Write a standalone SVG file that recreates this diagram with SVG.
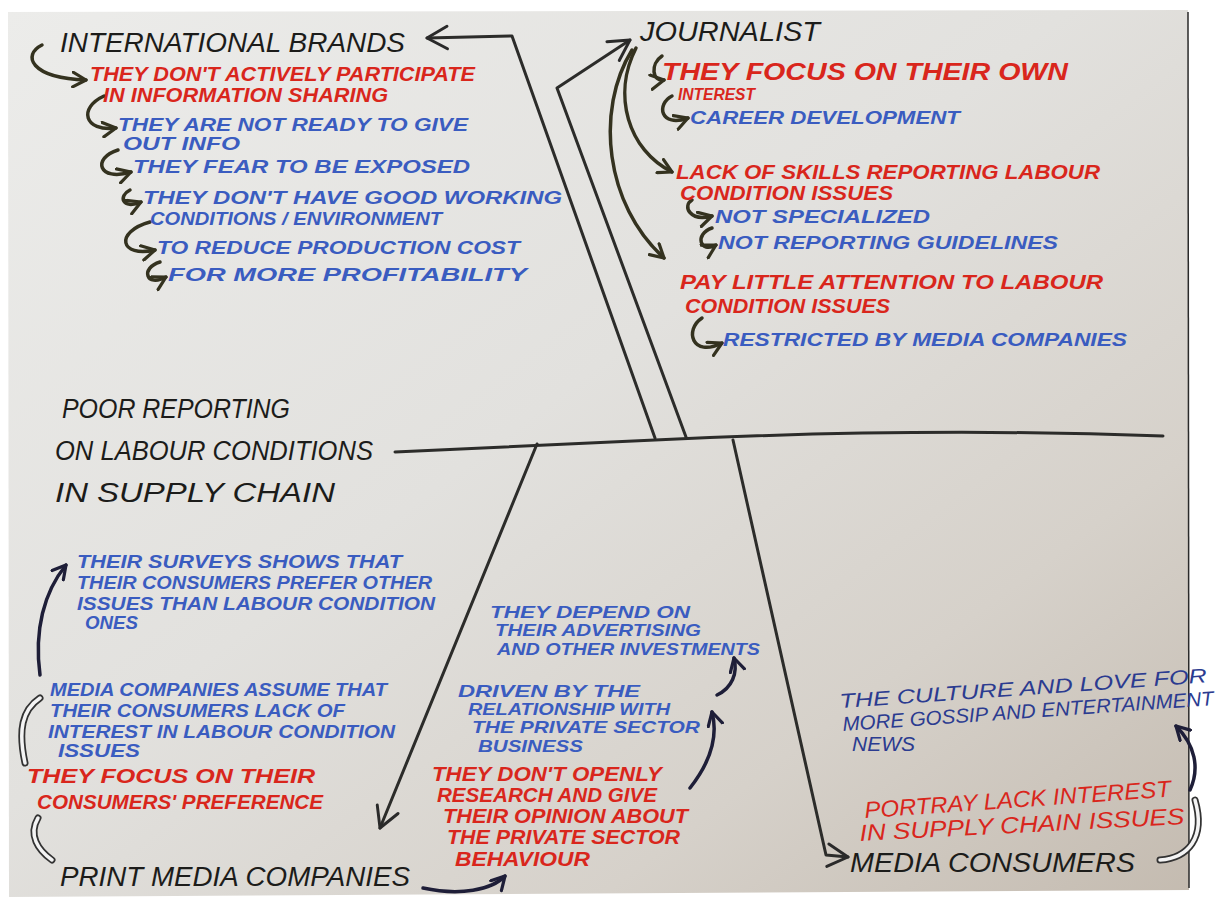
<svg xmlns="http://www.w3.org/2000/svg" width="1219" height="899" viewBox="0 0 1219 899">
<defs>
<linearGradient id="paper" x1="0" y1="0" x2="1" y2="1">
<stop offset="0" stop-color="#ececea"/>
<stop offset="0.45" stop-color="#e2e1de"/>
<stop offset="0.75" stop-color="#d6d1ca"/>
<stop offset="1" stop-color="#c4bbb0"/>
</linearGradient>
<marker id="ah" viewBox="0 0 12 12" refX="10" refY="6" markerWidth="5" markerHeight="5" orient="auto" markerUnits="strokeWidth">
<path d="M1,1 L10,6 L1,11" fill="none" stroke="context-stroke" stroke-width="2.2" stroke-linecap="round" stroke-linejoin="round"/>
</marker>
<marker id="ahb" viewBox="0 0 12 12" refX="10" refY="6" markerWidth="9" markerHeight="9" orient="auto" markerUnits="strokeWidth">
<path d="M1,1 L10,6 L1,11" fill="none" stroke="#2a2a2a" stroke-width="1.3" stroke-linecap="round" stroke-linejoin="round"/>
</marker>
</defs>
<style>
text{font-family:"Liberation Sans","DejaVu Sans",sans-serif;font-style:italic;font-weight:bold;}
.k{fill:#1c1c1a;font-size:27px;font-weight:normal;}
.r{fill:#d9261c;font-size:20px;}
.b{fill:#3a5cc0;font-size:18px;}
.s{font-size:17px;}
.n{fill:#2b3b90;font-size:20px;font-weight:normal;}
.bone{fill:none;stroke:#2c2c2a;stroke-width:3;stroke-linecap:round;stroke-linejoin:round;}
.arr{fill:none;stroke:#34321f;stroke-width:3.5;stroke-linecap:round;}
.wo{fill:none;stroke:#333;stroke-width:7;stroke-linecap:round;}
.wi{fill:none;stroke:#f4f4f4;stroke-width:3.5;stroke-linecap:round;}
</style>
<rect x="0" y="0" width="1219" height="899" fill="#ffffff"/>
<polygon points="8,12 1188,10 1189,890 9,897" fill="url(#paper)"/>
<line x1="1188" y1="12" x2="1189" y2="888" stroke="#2a2a2a" stroke-width="1.5"/>

<g id="connectors">
<path class="bone" d="M395,452 L655,440 C820,432 1000,430 1163,436"/>
<path class="bone" d="M655,438 L512,36 L427,38" marker-end="url(#ahb)"/>
<path class="bone" d="M686,437 L557,88 L630,40" marker-end="url(#ahb)"/>
<path class="bone" d="M537,444 L380,828" marker-end="url(#ahb)"/>
<path class="bone" d="M733,440 L826,855 L848,857" marker-end="url(#ahb)"/>
<path class="arr" d="M636,48 C612,95 628,150 672,172" marker-end="url(#ah)"/>
<path class="arr" d="M632,50 C595,110 605,205 664,258" marker-end="url(#ah)"/>
<path class="arr" d="M42,45 C22,55 30,78 86,80" marker-end="url(#ah)"/>
<path class="arr" d="M104,96 C78,108 84,132 116,128" marker-end="url(#ah)"/>
<path class="arr" d="M118,150 C92,158 98,182 131,172" marker-end="url(#ah)"/>
<path class="arr" d="M130,190 C118,196 122,210 141,202" marker-end="url(#ah)"/>
<path class="arr" d="M150,222 C114,232 120,258 155,250" marker-end="url(#ah)"/>
<path class="arr" d="M160,262 C140,268 146,288 166,277" marker-end="url(#ah)"/>
<path class="arr" d="M662,56 C650,64 652,82 664,80" marker-end="url(#ah)"/>
<path class="arr" d="M672,96 C656,104 660,128 688,118" marker-end="url(#ah)"/>
<path class="arr" d="M692,200 C682,206 690,222 712,216" marker-end="url(#ah)"/>
<path class="arr" d="M712,228 C694,234 700,254 716,245" marker-end="url(#ah)"/>
<path class="arr" d="M702,318 C684,330 692,358 722,343" marker-end="url(#ah)"/>
<path class="arr" style="stroke:#1e1e38" d="M40,675 C34,630 44,592 66,565" marker-end="url(#ah)"/>
<path class="arr" style="stroke:#1e1e38" d="M423,888 C460,896 492,890 505,876" marker-end="url(#ah)"/>
<path class="arr" style="stroke:#1e1e38" d="M690,788 C712,760 718,735 712,712" marker-end="url(#ah)"/>
<path class="arr" style="stroke:#1e1e38" d="M717,695 C732,688 738,673 734,658" marker-end="url(#ah)"/>
<path class="arr" style="stroke:#1e1e38" d="M1190,790 C1200,768 1195,745 1176,726" marker-end="url(#ah)"/>
<path class="wo" d="M25,763 C18,730 22,710 40,698"/>
<path class="wi" d="M25,763 C18,730 22,710 40,698"/>
<path class="wo" d="M52,860 C38,850 28,835 38,818"/>
<path class="wi" d="M52,860 C38,850 28,835 38,818"/>
<path class="wo" d="M1160,860 C1188,858 1206,838 1195,800"/>
<path class="wi" d="M1160,860 C1188,858 1206,838 1195,800"/>
</g>

<g id="problem">
<text class="k" x="62" y="418" textLength="228" lengthAdjust="spacingAndGlyphs">POOR REPORTING</text>
<text class="k" x="55" y="460" textLength="318" lengthAdjust="spacingAndGlyphs">ON LABOUR CONDITIONS</text>
<text class="k" x="55" y="502" textLength="280" lengthAdjust="spacingAndGlyphs">IN SUPPLY CHAIN</text>
</g>

<g id="international-brands">
<text class="k" x="60" y="52" textLength="345" lengthAdjust="spacingAndGlyphs">INTERNATIONAL BRANDS</text>
<text class="r" x="90" y="81" textLength="385" lengthAdjust="spacingAndGlyphs">THEY DON'T ACTIVELY PARTICIPATE</text>
<text class="r" x="103" y="102" textLength="285" lengthAdjust="spacingAndGlyphs">IN INFORMATION SHARING</text>
<text class="b" x="118" y="131" textLength="350" lengthAdjust="spacingAndGlyphs">THEY ARE NOT READY TO GIVE</text>
<text class="b" x="123" y="150" textLength="117" lengthAdjust="spacingAndGlyphs">OUT INFO</text>
<text class="b" x="133" y="173" textLength="337" lengthAdjust="spacingAndGlyphs">THEY FEAR TO BE EXPOSED</text>
<text class="b" x="143" y="204" textLength="419" lengthAdjust="spacingAndGlyphs">THEY DON'T HAVE GOOD WORKING</text>
<text class="b" x="150" y="225" textLength="292" lengthAdjust="spacingAndGlyphs">CONDITIONS / ENVIRONMENT</text>
<text class="b" x="157" y="254" textLength="363" lengthAdjust="spacingAndGlyphs">TO REDUCE PRODUCTION COST</text>
<text class="b" x="168" y="281" textLength="359" lengthAdjust="spacingAndGlyphs">FOR MORE PROFITABILITY</text>
</g>

<g id="journalist">
<text class="k" x="640" y="41" textLength="180" lengthAdjust="spacingAndGlyphs">JOURNALIST</text>
<text class="r" x="662" y="80" textLength="406" lengthAdjust="spacingAndGlyphs" style="font-size:23px">THEY FOCUS ON THEIR OWN</text>
<text class="r" x="678" y="100" textLength="77" lengthAdjust="spacingAndGlyphs" style="font-size:16px">INTEREST</text>
<text class="b" x="690" y="124" textLength="270" lengthAdjust="spacingAndGlyphs">CAREER DEVELOPMENT</text>
<text class="r" x="676" y="179" textLength="424" lengthAdjust="spacingAndGlyphs">LACK OF SKILLS REPORTING LABOUR</text>
<text class="r" x="680" y="200" textLength="213" lengthAdjust="spacingAndGlyphs">CONDITION ISSUES</text>
<text class="b" x="715" y="223" textLength="215" lengthAdjust="spacingAndGlyphs">NOT SPECIALIZED</text>
<text class="b" x="718" y="249" textLength="340" lengthAdjust="spacingAndGlyphs">NOT REPORTING GUIDELINES</text>
<text class="r" x="680" y="289" textLength="423" lengthAdjust="spacingAndGlyphs">PAY LITTLE ATTENTION TO LABOUR</text>
<text class="r" x="685" y="313" textLength="205" lengthAdjust="spacingAndGlyphs">CONDITION ISSUES</text>
<text class="b" x="723" y="346" textLength="404" lengthAdjust="spacingAndGlyphs">RESTRICTED BY MEDIA COMPANIES</text>
</g>

<g id="print-media-companies">
<text class="b" x="77" y="568" textLength="325" lengthAdjust="spacingAndGlyphs">THEIR SURVEYS SHOWS THAT</text>
<text class="b" x="77" y="589" textLength="355" lengthAdjust="spacingAndGlyphs">THEIR CONSUMERS PREFER OTHER</text>
<text class="b" x="77" y="610" textLength="358" lengthAdjust="spacingAndGlyphs">ISSUES THAN LABOUR CONDITION</text>
<text class="b" x="85" y="629" textLength="53" lengthAdjust="spacingAndGlyphs">ONES</text>
<text class="b" x="50" y="696" textLength="337" lengthAdjust="spacingAndGlyphs">MEDIA COMPANIES ASSUME THAT</text>
<text class="b" x="50" y="717" textLength="295" lengthAdjust="spacingAndGlyphs">THEIR CONSUMERS LACK OF</text>
<text class="b" x="48" y="738" textLength="347" lengthAdjust="spacingAndGlyphs">INTEREST IN LABOUR CONDITION</text>
<text class="b" x="58" y="757" textLength="82" lengthAdjust="spacingAndGlyphs">ISSUES</text>
<text class="r" x="27" y="783" textLength="288" lengthAdjust="spacingAndGlyphs">THEY FOCUS ON THEIR</text>
<text class="r" x="37" y="809" textLength="286" lengthAdjust="spacingAndGlyphs">CONSUMERS' PREFERENCE</text>
<text class="k" x="60" y="886" textLength="350" lengthAdjust="spacingAndGlyphs">PRINT MEDIA COMPANIES</text>
<text class="b s" x="490" y="618" textLength="200" lengthAdjust="spacingAndGlyphs">THEY DEPEND ON</text>
<text class="b s" x="495" y="636" textLength="206" lengthAdjust="spacingAndGlyphs">THEIR ADVERTISING</text>
<text class="b s" x="497" y="655" textLength="263" lengthAdjust="spacingAndGlyphs">AND OTHER INVESTMENTS</text>
<text class="b s" x="458" y="697" textLength="182" lengthAdjust="spacingAndGlyphs">DRIVEN BY THE</text>
<text class="b s" x="468" y="715" textLength="202" lengthAdjust="spacingAndGlyphs">RELATIONSHIP WITH</text>
<text class="b s" x="472" y="733" textLength="228" lengthAdjust="spacingAndGlyphs">THE PRIVATE SECTOR</text>
<text class="b s" x="478" y="752" textLength="105" lengthAdjust="spacingAndGlyphs">BUSINESS</text>
<text class="r" x="432" y="781" textLength="230" lengthAdjust="spacingAndGlyphs">THEY DON'T OPENLY</text>
<text class="r" x="437" y="802" textLength="220" lengthAdjust="spacingAndGlyphs">RESEARCH AND GIVE</text>
<text class="r" x="443" y="823" textLength="245" lengthAdjust="spacingAndGlyphs">THEIR OPINION ABOUT</text>
<text class="r" x="447" y="844" textLength="233" lengthAdjust="spacingAndGlyphs">THE PRIVATE SECTOR</text>
<text class="r" x="455" y="866" textLength="135" lengthAdjust="spacingAndGlyphs">BEHAVIOUR</text>
</g>

<g id="media-consumers">
<text class="n" x="840" y="708" textLength="368" lengthAdjust="spacingAndGlyphs" transform="rotate(-4 840 708)">THE CULTURE AND LOVE FOR</text>
<text class="n" x="843" y="731" textLength="372" lengthAdjust="spacingAndGlyphs" transform="rotate(-4 843 731)">MORE GOSSIP AND ENTERTAINMENT</text>
<text class="n" x="852" y="751" textLength="63" lengthAdjust="spacingAndGlyphs">NEWS</text>
<text class="r" x="865" y="818" textLength="307" lengthAdjust="spacingAndGlyphs" transform="rotate(-4 865 818)" style="font-size:23px;font-weight:normal">PORTRAY LACK INTEREST</text>
<text class="r" x="860" y="841" textLength="325" lengthAdjust="spacingAndGlyphs" transform="rotate(-3 860 841)" style="font-size:23px;font-weight:normal">IN SUPPLY CHAIN ISSUES</text>
<text class="k" x="850" y="872" textLength="285" lengthAdjust="spacingAndGlyphs">MEDIA CONSUMERS</text>
</g>
</svg>
